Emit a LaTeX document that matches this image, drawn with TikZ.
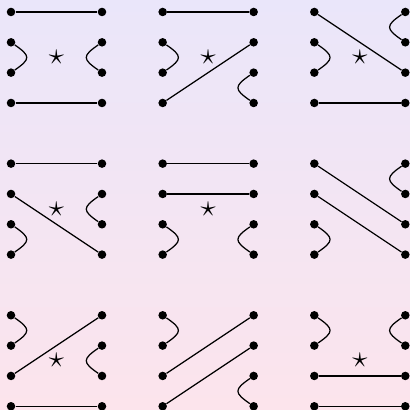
\documentclass[tikz,border=0pt]{standalone}
\usepackage{amsmath}
\usepackage{tikz}
\definecolor{Lavanda}{RGB}{234, 230, 250}
\definecolor{Rosa}{RGB}{252, 228, 236}

\begin{document}
\begin{tikzpicture}[
        x=0.6cm, y=0.6cm,
        dot/.style={circle, fill=black, inner sep=0pt, minimum size=4.8pt},
        link/.style={line width=0.7pt, draw=black},
        bowl/.style={link, to path={.. controls +(0.65,-0.45) and +(0.65,0.45) .. (\tikztotarget)}},
        bowr/.style={link, to path={.. controls +(-0.65,-0.45) and +(-0.65,0.45) .. (\tikztotarget)}},
        starmark/.style={inner sep=0pt, font=\LARGE}
    ]
        % Fondo degradado y recorte
        \shade[top color=Lavanda, bottom color=Rosa] (-0.363,0.395) rectangle (13.155,-13.09);
        \useasboundingbox (-0.363,0.395) rectangle (13.155,-13.09);

        % Puntos: 3x3 diagramas, 4 a la izquierda y 4 a la derecha
        \foreach \r in {1,2,3} {
            \foreach \c in {1,2,3} {
                \foreach \k in {1,...,4} {
                    \node[dot] (L\r\c-\k) at ({5*(\c-1)}, {-5*(\r-1)-(\k-1)}) {};
                    \node[dot] (R\r\c-\k) at ({5*(\c-1)+3}, {-5*(\r-1)-(\k-1)}) {};
                }
            }
        }

        % Fila 1
        \draw[link] (L11-1) -- (R11-1);
        \draw[bowl] (L11-2) to (L11-3);
        \draw[bowr] (R11-2) to (R11-3);
        \draw[link] (L11-4) -- (R11-4);
        \node[starmark] (s11) at (1.5,-1.5) {$\star$};

        \draw[link] (L12-1) -- (R12-1);
        \draw[bowl] (L12-2) to (L12-3);
        \draw[link] (L12-4) -- (R12-2);
        \draw[bowr] (R12-3) to (R12-4);
        \node[starmark] (s12) at (6.5,-1.5) {$\star$};

        \draw[link] (L13-1) -- (R13-3);
        \draw[bowr] (R13-1) to (R13-2);
        \draw[bowl] (L13-2) to (L13-3);
        \draw[link] (L13-4) -- (R13-4);
        \node[starmark] (s13) at (11.5,-1.5) {$\star$};

        % Fila 2
        \draw[link] (L21-1) -- (R21-1);
        \draw[link] (L21-2) -- (R21-4);
        \draw[bowl] (L21-3) to (L21-4);
        \draw[bowr] (R21-2) to (R21-3);
        \node[starmark] (s21) at (1.5,-6.5) {$\star$};

        \draw[link] (L22-1) -- (R22-1);
        \draw[link] (L22-2) -- (R22-2);
        \draw[bowl] (L22-3) to (L22-4);
        \draw[bowr] (R22-3) to (R22-4);
        \node[starmark] (s22) at (6.5,-6.5) {$\star$};

        \draw[link] (L23-1) -- (R23-3);
        \draw[link] (L23-2) -- (R23-4);
        \draw[bowl] (L23-3) to (L23-4);
        \draw[bowr] (R23-1) to (R23-2);

        % Fila 3
        \draw[bowl] (L31-1) to (L31-2);
        \draw[link] (L31-3) -- (R31-1);
        \draw[bowr] (R31-2) to (R31-3);
        \draw[link] (L31-4) -- (R31-4);
        \node[starmark] (s31) at (1.5,-11.5) {$\star$};

        \draw[bowl] (L32-1) to (L32-2);
        \draw[link] (L32-3) -- (R32-1);
        \draw[link] (L32-4) -- (R32-2);
        \draw[bowr] (R32-3) to (R32-4);

        \draw[bowl] (L33-1) to (L33-2);
        \draw[bowr] (R33-1) to (R33-2);
        \draw[link] (L33-3) -- (R33-3);
        \draw[link] (L33-4) -- (R33-4);
        \node[starmark] (s33) at (11.5,-11.5) {$\star$};
    \end{tikzpicture}
\end{document}
